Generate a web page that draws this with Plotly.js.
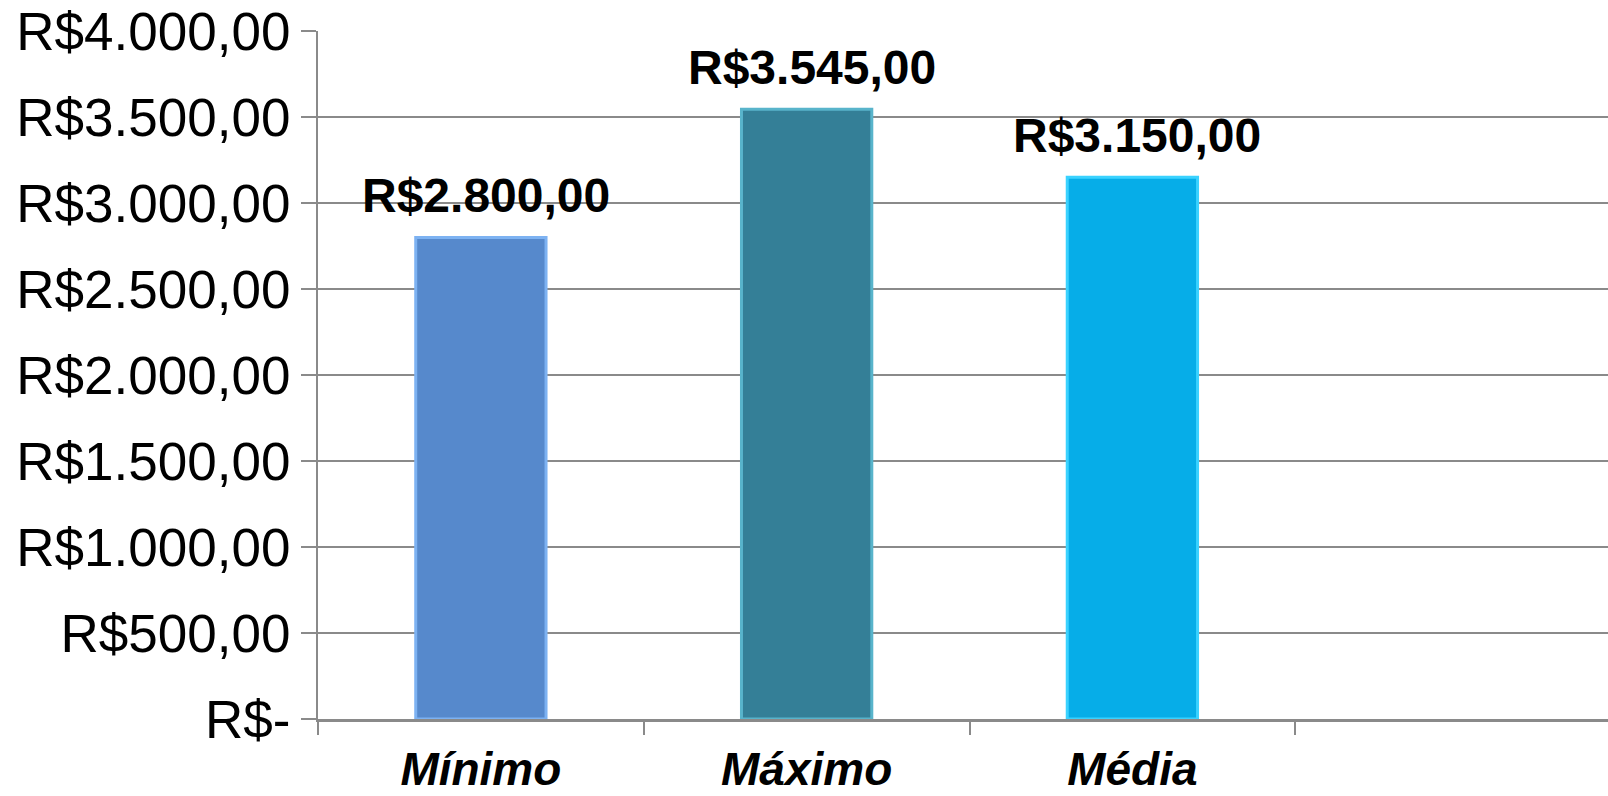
<!DOCTYPE html>
<html>
<head>
<meta charset="utf-8">
<script src="https://cdn.plot.ly/plotly-3.0.1.min.js"></script>
<style>html,body{margin:0;padding:0;background:#fff;}#chart{width:1608px;height:796px;}</style>
</head>
<body>
<div id="chart"></div>
<script>
const categories = ["Mínimo", "Máximo", "Média"];
const values = [2800, 3545, 3150];
const barColors = ["#5689CC", "#347F97", "#06ADE8"];
const barEdgeColors = ["#7DB2F2", "#58B4CB", "#3AD2FF"];
const yTickVals = [0, 500, 1000, 1500, 2000, 2500, 3000, 3500, 4000];
const yTickText = ["R$-", "R$500,00", "R$1.000,00", "R$1.500,00", "R$2.000,00", "R$2.500,00", "R$3.000,00", "R$3.500,00", "R$4.000,00"];

function brl(v) {
  const parts = v.toFixed(2).split(".");
  const intPart = parts[0].replace(/\B(?=(\d{3})+(?!\d))/g, ".");
  return "R$" + intPart + "," + parts[1];
}

const trace = {
  type: "bar",
  x: categories,
  y: values,
  width: 0.4,
  marker: { color: barColors, line: { color: barEdgeColors, width: 3 } },
  hoverinfo: "none"
};

const annotations = categories.map((c, i) => ({
  x: c, y: values[i], xref: "x", yref: "y",
  text: "<b>" + brl(values[i]) + "</b>",
  showarrow: false,
  yanchor: "middle", xanchor: "center",
  yshift: 42, xshift: 5,
  font: { family: "Liberation Sans, Arial, sans-serif", size: 48, color: "#000" }
}));

const layout = {
  width: 1608, height: 796,
  margin: { l: 318, r: 0, t: 31, b: 77 },
  paper_bgcolor: "#fff", plot_bgcolor: "#fff",
  showlegend: false,
  annotations: annotations,
  xaxis: {
    type: "category",
    range: [-0.5, 3.46],
    tickson: "boundaries",
    ticks: "outside", ticklen: 13, tickwidth: 2, tickcolor: "#8a8a8a",
    ticklabelstandoff: 8,
    showgrid: false, zeroline: false,
    showline: true, linecolor: "#8a8a8a", linewidth: 3,
    tickfont: { family: "Liberation Sans, Arial, sans-serif", size: 46, color: "#000", weight: "bold", style: "italic" },
    fixedrange: true
  },
  yaxis: {
    range: [0, 4000],
    tickvals: yTickVals, ticktext: yTickText,
    ticks: "outside", ticklen: 15, tickwidth: 2, tickcolor: "#8a8a8a",
    showgrid: true, gridcolor: "#8a8a8a", gridwidth: 2,
    zeroline: false,
    showline: true, linecolor: "#8a8a8a", linewidth: 2,
    tickfont: { family: "Liberation Sans, Arial, sans-serif", size: 53, color: "#000" },
    fixedrange: true
  }
};

Plotly.newPlot("chart", [trace], layout, { displayModeBar: false, staticPlot: true });
</script>
</body>
</html>
